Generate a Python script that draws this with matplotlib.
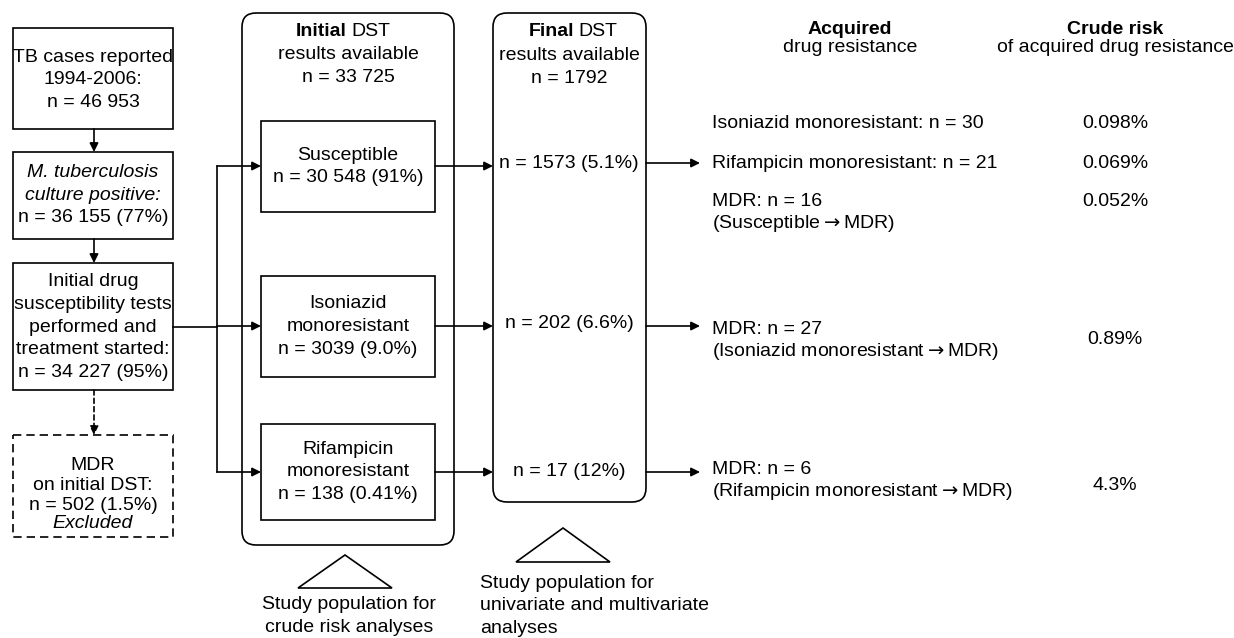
import matplotlib.pyplot as plt
from matplotlib.patches import Rectangle, FancyBboxPatch, Polygon

plt.rcParams['font.family'] = ['Liberation Sans', 'DejaVu Sans']
FS = 14

# data
cascade_labels = ["TB cases reported\n1994-2006:", "M. tuberculosis\nculture positive:",
                  "Initial drug\nsusceptibility tests\nperformed and\ntreatment started:"]
cascade_n = [46953, 36155, 34227]
cascade_pct = [None, "77%", "95%"]
excluded_n = 502
excluded_pct = "1.5%"

initial_total = 33725
initial_groups = ["Susceptible", "Isoniazid\nmonoresistant", "Rifampicin\nmonoresistant"]
initial_n = [30548, 3039, 138]
initial_pct = ["91%", "9.0%", "0.41%"]

final_total = 1792
final_n = [1573, 202, 17]
final_pct = ["5.1%", "6.6%", "12%"]

acquired_labels = ["Isoniazid monoresistant: n = 30",
                   "Rifampicin monoresistant: n = 21",
                   "MDR: n = 16\n(Susceptible$\\rightarrow$MDR)",
                   "MDR: n = 27\n(Isoniazid monoresistant$\\rightarrow$MDR)",
                   "MDR: n = 6\n(Rifampicin monoresistant$\\rightarrow$MDR)"]
crude_risk = ["0.098%", "0.069%", "0.052%", "0.89%", "4.3%"]


def fmt(n):
    # thousands separated by a space only for 5+ digit numbers
    return f"{n:,}".replace(",", " ") if n >= 10000 else str(n)


fig = plt.figure(figsize=(12.34, 6.38), dpi=100)
ax = fig.add_axes([0, 0, 1, 1])
ax.set_xlim(0, 1234)
ax.set_ylim(638, 0)
ax.axis('off')

LW = 1.2


def box(x0, y0, x1, y1, **kw):
    ax.add_patch(Rectangle((x0, y0), x1 - x0, y1 - y0, fill=False, ec='black', lw=LW, **kw))


def rbox(x0, y0, x1, y1):
    ax.add_patch(FancyBboxPatch((x0, y0), x1 - x0, y1 - y0,
                                boxstyle="round,pad=0,rounding_size=14",
                                fill=False, ec='black', lw=LW))


def arrow(x0, y0, x1, y1, ls='-'):
    ax.annotate("", xy=(x1, y1), xytext=(x0, y0),
                arrowprops=dict(arrowstyle='-|>', color='black', lw=LW, linestyle=ls,
                                mutation_scale=13, shrinkA=0, shrinkB=0))


def txt(x, y, s, ha='center', **kw):
    ax.text(x, y, s, ha=ha, va='center', fontsize=FS, linespacing=1.46, **kw)


# left cascade
box(13, 28, 173, 129)
txt(93, 80, cascade_labels[0] + "\nn = " + fmt(cascade_n[0]))
arrow(94, 129, 94, 152)
box(13, 152, 173, 239)
txt(93, 184, cascade_labels[1], style='italic')
txt(93, 218, f"n = {fmt(cascade_n[1])} ({cascade_pct[1]})")
arrow(94, 239, 94, 263)
box(13, 263, 173, 390)
txt(93, 327, cascade_labels[2] + f"\nn = {fmt(cascade_n[2])} ({cascade_pct[2]})")
arrow(94, 390, 94, 435, ls=(0, (3, 2)))
box(13, 435, 173, 537, linestyle=(0, (5, 3)))
txt(93, 465, "MDR")
txt(93, 486, "on initial DST:")
txt(93, 506, f"n = {excluded_n} ({excluded_pct})")
txt(93, 524, "Excluded", style='italic')

# connectors
ys = [166, 326, 472]
ax.plot([173, 217], [327, 327], color='black', lw=LW)
ax.plot([217, 217], [ys[0], ys[2]], color='black', lw=LW)

# initial DST container
rbox(242, 13, 454, 545)
txt(347, 32, "Initial", ha='right', fontweight='bold')
txt(351, 32, "DST", ha='left')
txt(348, 66, "results available\nn = " + fmt(initial_total))
inner = [(121, 212), (276, 377), (424, 520)]
for (y0, y1), g, n, p, y in zip(inner, initial_groups, initial_n, initial_pct, ys):
    box(261, y0, 435, y1)
    txt(348, (y0 + y1) / 2, f"{g}\nn = {fmt(n)} ({p})")
    arrow(217, y, 261, y)
    arrow(435, y, 493, y)

# final DST container
rbox(493, 13, 646, 502)
txt(574, 32, "Final", ha='right', fontweight='bold')
txt(578, 32, "DST", ha='left')
txt(569, 67, "results available\nn = " + fmt(final_total))
for n, p, y in zip(final_n, final_pct, [163, 323, 472]):
    txt(569, y, f"n = {fmt(n)} ({p})")
for y in [163, 326, 472]:
    arrow(646, y, 700, y)

# triangles and captions
ax.add_patch(Polygon([(345, 555), (298, 588), (392, 588)], closed=True, fill=False, ec='black', lw=LW))
txt(349, 616, "Study population for\ncrude risk analyses")
ax.add_patch(Polygon([(563, 528), (516, 562), (610, 562)], closed=True, fill=False, ec='black', lw=LW))
txt(480, 606, "Study population for\nunivariate and multivariate\nanalyses", ha='left')

# right columns
txt(850, 30, "Acquired", fontweight='bold')
txt(850, 48, "drug resistance")
txt(1115, 30, "Crude risk", fontweight='bold')
txt(1115, 48, "of acquired drug resistance")

label_y = [123, 164, 201, 329, 470]
risk_y = [123, 164, 201, 340, 485]
for lab, ly in zip(acquired_labels, label_y):
    for k, line in enumerate(lab.split("\n")):
        txt(712, ly + 22 * k, line, ha='left')
for r, ry in zip(crude_risk, risk_y):
    txt(1115, ry, r)

fig.savefig("out.png", dpi=100)
